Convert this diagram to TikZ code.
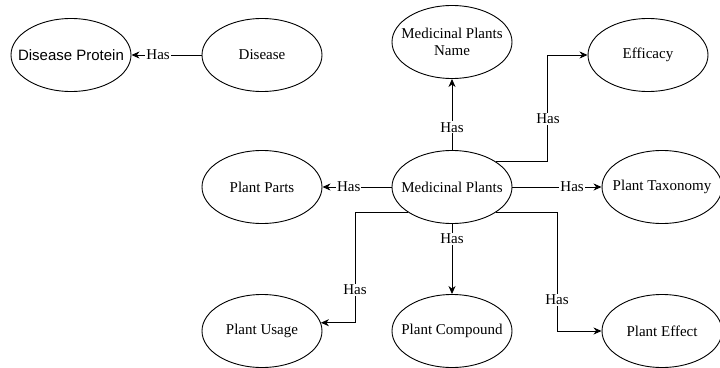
\documentclass[tikz,border=0pt]{standalone}
\usepackage{fontspec}
\setmainfont{Liberation Serif}
\newfontfamily\arialfont{Liberation Sans}
\usetikzlibrary{shapes.geometric,arrows.meta}

\begin{document}
\begin{tikzpicture}[
    x=1pt, y=-1pt,
    entity/.style={ellipse, draw=black, line width=0.9pt, fill=white, inner sep=-12pt,
        minimum width=120pt, minimum height=73pt, align=center,
        font=\fontsize{15}{17}\selectfont},
    rel/.style={draw, line width=0.9pt, -{Stealth[length=8pt,width=7pt,inset=2.5pt]}},
    has/.style={fill=white, inner sep=1pt, font=\fontsize{15}{17}\selectfont}
]
\useasboundingbox (0,0) rectangle (720,367);

\node[entity, font=\arialfont\fontsize{15}{17}\selectfont] (protein) at (71,55) {Disease Protein};
\node[entity] (disease) at (262,55) {Disease};
\node[entity] (name) at (452,42) {Medicinal Plants\\ Name};
\node[entity] (efficacy) at (648,55) {Efficacy};
\node[entity] (plants) at (452,187) {Medicinal Plants};
\node[entity] (parts) at (262,187) {Plant Parts};
\node[entity] (taxonomy) at (662,187) {Plant Taxonomy};
\node[entity] (usage) at (262,331) {Plant Usage};
\node[entity] (compound) at (452,331) {Plant Compound};
\node[entity] (effect) at (662,331) {Plant Effect};

% relations
\draw[rel] (disease) -- node[has, pos=0.62] {Has} (protein);
\draw[rel] (plants) -- node[has, pos=0.32] {Has} (name);
\draw[rel] (plants) -- node[has, pos=0.62] {Has} (parts);
\draw[rel] (plants) -- node[has, pos=0.67] {Has} (taxonomy);
\draw[rel] (plants) -- node[has, pos=0.21] {Has} (compound);
\draw[rel] (plants.30) -- ++(52,0) |- node[has, pos=0.2] {Has} (efficacy);
\draw[rel] (plants.210) -- ++(-53,0) |- node[has, pos=0.35] {Has} (usage.8);
\draw[rel] (plants.-30) -- ++(61,0) |- node[has, pos=0.37] {Has} (effect);
\end{tikzpicture}
\end{document}
